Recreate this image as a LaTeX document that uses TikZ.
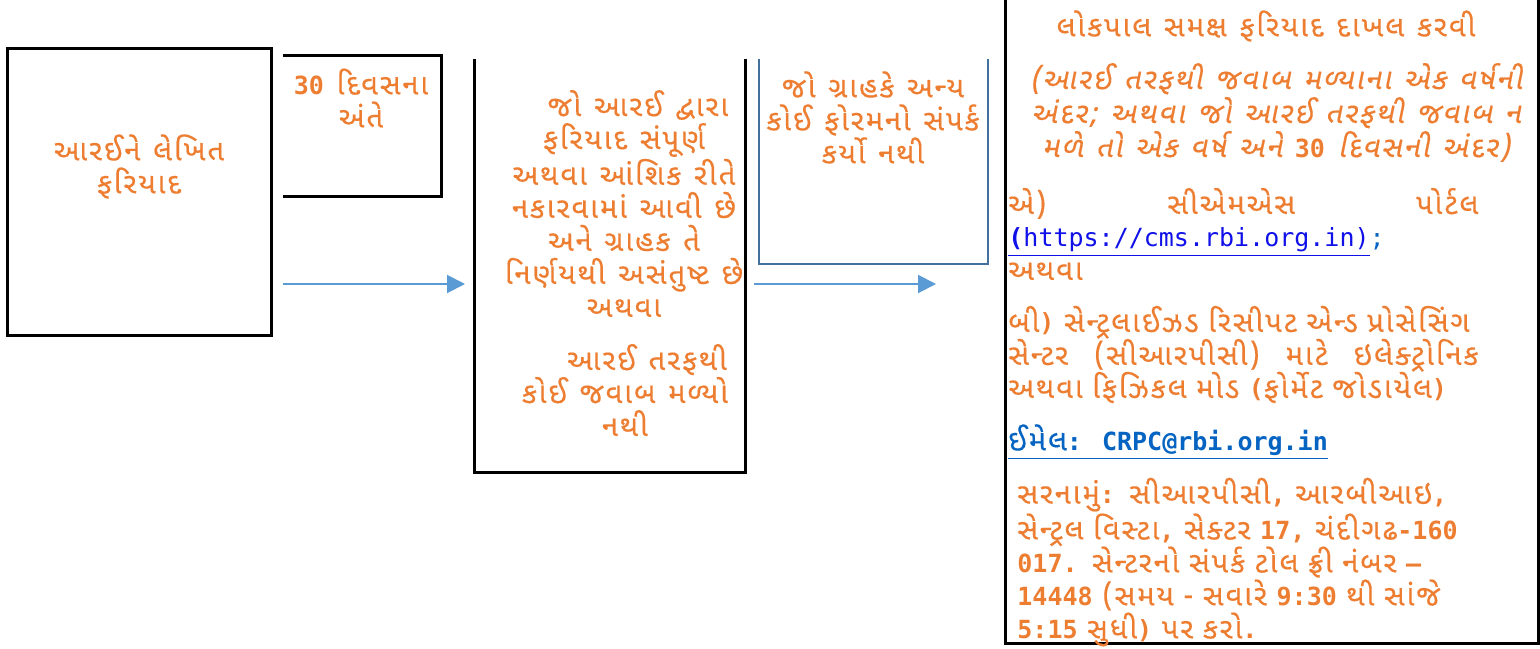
\documentclass[tikz,border=0pt]{standalone}
\usepackage{fontspec}
\usetikzlibrary{arrows.meta}
\newfontfamily\guj[Script=Gujarati,LetterSpace=7,WordSpace=1.2,FakeBold=0.4]{Noto Sans Gujarati UI}
\newfontfamily\gujit[Script=Gujarati,LetterSpace=7,WordSpace=1.2,FakeBold=0.4,FakeSlant=0.2]{Noto Sans Gujarati UI}
\newfontfamily\mono{DejaVu Sans Mono}
\definecolor{txtorange}{HTML}{ED7D31}
\definecolor{arrowblue}{HTML}{5B9BD5}
\definecolor{boxblue}{HTML}{41719C}
\definecolor{urlblue}{HTML}{1010E8}
\definecolor{mailblue}{HTML}{0563C1}
\newcommand*\dig[1]{{\mono\bfseries\fontsize{12.5}{16.5}\selectfont #1}}
\tikzset{
  boxline/.style={line width=1.5pt, black},
  blueline/.style={line width=1.3pt, boxblue},
  flowarrow/.style={line width=1pt, arrowblue, -{Triangle[length=9pt,width=9pt]}},
  gtext/.style={font=\guj\fontsize{14.5}{16.5}\selectfont, text=txtorange, align=center, inner sep=0pt},
}

\begin{document}
\begin{tikzpicture}[x=0.5pt,y=-0.5pt]
        \useasboundingbox (0,0) rectangle (1540,648);
        %
        \coordinate (A1) at (7,48);
        \coordinate (A2) at (271,335);
        \coordinate (B1) at (283,55);
        \coordinate (B2) at (441,55);
        \coordinate (B3) at (441,196);
        \coordinate (B4) at (283,196);
        \coordinate (C1) at (474,59);
        \coordinate (C2) at (474,472);
        \coordinate (C3) at (745,472);
        \coordinate (C4) at (745,59);
        \coordinate (D1) at (759,59);
        \coordinate (D2) at (759,264);
        \coordinate (D3) at (988,264);
        \coordinate (D4) at (988,59);
        \coordinate (E1) at (1005,-5);
        \coordinate (E2) at (1005,643);
        \coordinate (E3) at (1538,643);
        \coordinate (E4) at (1538,-5);
        %
        \draw[boxline] (A1) rectangle (A2);
        \draw[boxline] (B1) -- (B2) -- (B3) -- (B4);
        \draw[boxline] (C1) -- (C2) -- (C3) -- (C4);
        \draw[blueline] (D1) -- (D2) -- (D3) -- (D4);
        \draw[boxline] (E1) -- (E2) -- (E3) -- (E4);
        %
        \coordinate (arrA) at (283,284);
        \coordinate (arrB) at (465,284);
        \coordinate (arrC) at (754,284);
        \coordinate (arrD) at (936,284);
        \draw[flowarrow] (arrA) -- (arrB);
        \draw[flowarrow] (arrC) -- (arrD);
        %
        \node[gtext] (complaint) at (139,166.5) {આરઈને લેખિત\\ફરિયાદ};
        \node[gtext] (thirtydays) at (361,98) {\dig{30} દિવસના\\અંતે};
        \node[gtext] (rejected) at (624,203.5) {\hspace*{14pt}જો આરઈ દ્વારા\\ફરિયાદ સંપૂર્ણ\\અથવા આંશિક રીતે\\નકારવામાં આવી છે\\અને ગ્રાહક તે\\નિર્ણયથી અસંતુષ્ટ છે\\અથવા};
        \node[gtext] (noreply) at (625,390) {\hspace*{22pt}આરઈ તરફથી\\કોઈ જવાબ મળ્યો\\નથી};
        \node[gtext] (noforum) at (873,117.5) {જો ગ્રાહકે અન્ય\\કોઈ ફોરમનો સંપર્ક\\કર્યો નથી};
        %
        \node[gtext] (ombudsman) at (1266,26) {લોકપાલ સમક્ષ ફરિયાદ દાખલ કરવી};
        \node[gtext, font=\gujit\fontsize{14.5}{17}\selectfont] (within) at (1276,112.5)
          {(આરઈ તરફથી જવાબ મળ્યાના એક વર્ષની\\અંદર; અથવા જો આરઈ તરફથી જવાબ ન\\મળે તો એક વર્ષ અને \dig{30} દિવસની અંદર)};
        \node[gtext, anchor=west, align=left, text width=235pt] (cms) at (1008,234)
          {\makebox[235pt]{એ)\hfill સીએમએસ\hfill પોર્ટલ}\\
           {\mono\fontsize{12.5}{16.5}\selectfont\color{urlblue}\underline{{\bfseries(}https://cms.rbi.org.in)}\color{mailblue};}\\
           અથવા};
        \node[gtext, anchor=west, align=left, text width=240pt] (crpc) at (1008,354.5)
          {બી\dig{)} સેન્ટ્રલાઈઝડ રિસીપટ એન્ડ પ્રોસેસિંગ\\
           \makebox[235pt]{સેન્ટર\hfill (સીઆરપીસી)\hfill માટે\hfill ઇલેક્ટ્રોનિક}\\
           અથવા ફિઝિકલ મોડ \dig{(}ફોર્મેટ જોડાયેલ\dig{)}};
        \node[gtext, anchor=west, align=left, text=mailblue] (email) at (1008,442)
          {\underline{ઈમેલ\dig{: CRPC@rbi.org.in}}};
        \node[gtext, anchor=west, align=left, text width=245pt] (address) at (1017,562)
          {સરનામું\dig{:} સીઆરપીસી\dig{,} આરબીઆઇ\dig{,}\\
           સેન્ટ્રલ વિસ્ટા\dig{,} સેક્ટર \dig{17,} ચંદીગઢ\dig{-160}\\
           \dig{017.} સેન્ટરનો સંપર્ક ટોલ ફ્રી નંબર \dig{–}\\
           \dig{14448} (સમય - સવારે \dig{9:30} થી સાંજે\\
           \dig{5:15} સુધી\dig{)} પર કરો\dig{.}};
    \end{tikzpicture}
\end{document}
